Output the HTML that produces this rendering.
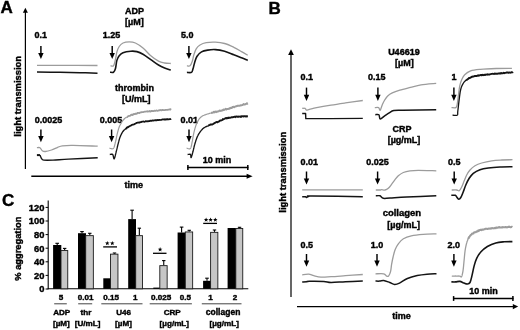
<!DOCTYPE html>
<html><head><meta charset="utf-8"><style>
html,body{margin:0;padding:0;background:#fff;}
svg{display:block;font-family:"Liberation Sans", sans-serif;filter:blur(0.25px);}
</style></head><body>
<svg width="520" height="330" viewBox="0 0 520 330">
<rect width="520" height="330" fill="#fff"/>
<text x="0.5" y="13.2" font-size="17" font-weight="bold" text-anchor="start" fill="#000" stroke="#000" stroke-width="0.4">A</text>
<line x1="25.4" y1="11.7" x2="25.4" y2="169" stroke="#000" stroke-width="1.2"/>
<path d="M22.9,12.7 L27.9,12.7 L25.4,7.7 Z" fill="#000"/>
<line x1="31.3" y1="176.2" x2="247.6" y2="176.2" stroke="#000" stroke-width="1.4"/>
<path d="M246.6,173.7 L246.6,178.7 L252.6,176.2 Z" fill="#000"/>
<text x="124.6" y="188.3" font-size="9" font-weight="bold" text-anchor="start" fill="#000" stroke="#000" stroke-width="0.4">time</text>
<text x="21.4" y="96.35" font-size="9.4" font-weight="bold" text-anchor="middle" fill="#000" stroke="#000" stroke-width="0.4" transform="rotate(-90 21.4 96.35)">light transmission</text>
<text x="134.4" y="14.3" font-size="9" font-weight="bold" text-anchor="middle" fill="#000" stroke="#000" stroke-width="0.4">ADP</text>
<text x="134.4" y="25.2" font-size="9" font-weight="bold" text-anchor="middle" fill="#000" stroke="#000" stroke-width="0.4">[µM]</text>
<text x="34.6" y="37.7" font-size="9" font-weight="bold" text-anchor="start" fill="#000" stroke="#000" stroke-width="0.4">0.1</text>
<text x="102.8" y="37.7" font-size="9" font-weight="bold" text-anchor="start" fill="#000" stroke="#000" stroke-width="0.4">1.25</text>
<text x="181" y="37.7" font-size="9" font-weight="bold" text-anchor="start" fill="#000" stroke="#000" stroke-width="0.4">5.0</text>
<line x1="40.9" y1="46" x2="40.9" y2="53.9" stroke="#000" stroke-width="1.45"/>
<path d="M38.199999999999996,52.9 L43.6,52.9 L40.9,59.1 Z" fill="#000"/>
<line x1="112.2" y1="46" x2="112.2" y2="53.9" stroke="#000" stroke-width="1.45"/>
<path d="M109.5,52.9 L114.9,52.9 L112.2,59.1 Z" fill="#000"/>
<line x1="188.9" y1="46" x2="188.9" y2="53.9" stroke="#000" stroke-width="1.45"/>
<path d="M186.20000000000002,52.9 L191.6,52.9 L188.9,59.1 Z" fill="#000"/>
<path d="M37.00,65.30 C40.83,65.32 49.92,65.37 60.00,65.40 C70.08,65.43 91.25,65.48 97.50,65.50" fill="none" stroke="#9c9c9c" stroke-width="1.3" stroke-linejoin="round" stroke-linecap="butt"/>
<path d="M37.00,72.10 C40.83,72.13 52.83,72.20 60.00,72.30 C67.17,72.40 73.75,72.55 80.00,72.70 C86.25,72.85 94.58,73.12 97.50,73.20" fill="none" stroke="#141414" stroke-width="1.5" stroke-linejoin="round" stroke-linecap="butt"/>
<path d="M110.50,65.80 C111.00,65.80 112.68,66.83 113.50,65.80 C114.32,64.77 114.83,61.92 115.40,59.60 C115.97,57.28 116.27,54.08 116.90,51.90 C117.53,49.72 118.18,47.98 119.20,46.50 C120.22,45.02 121.33,43.77 123.00,43.00 C124.67,42.23 127.13,41.90 129.20,41.90 C131.27,41.90 133.10,41.98 135.40,43.00 C137.70,44.02 140.43,45.87 143.00,48.00 C145.57,50.13 148.22,53.60 150.80,55.80 C153.38,58.00 156.20,60.00 158.50,61.20 C160.80,62.40 162.55,62.62 164.60,63.00 C166.65,63.38 169.77,63.42 170.80,63.50" fill="none" stroke="#9c9c9c" stroke-width="1.3" stroke-linejoin="round" stroke-linecap="butt"/>
<path d="M110.00,72.20 C110.58,72.20 112.60,72.77 113.50,72.20 C114.40,71.63 114.83,70.77 115.40,68.80 C115.97,66.83 116.27,62.57 116.90,60.40 C117.53,58.23 118.18,57.08 119.20,55.80 C120.22,54.52 121.07,53.47 123.00,52.70 C124.93,51.93 128.48,51.38 130.80,51.20 C133.12,51.02 134.87,51.10 136.90,51.60 C138.93,52.10 140.68,52.87 143.00,54.20 C145.32,55.53 148.22,57.80 150.80,59.60 C153.38,61.40 156.20,63.60 158.50,65.00 C160.80,66.40 162.55,67.15 164.60,68.00 C166.65,68.85 169.77,69.75 170.80,70.10" fill="none" stroke="#141414" stroke-width="1.6" stroke-linejoin="round" stroke-linecap="butt"/>
<path d="M186.90,65.80 C187.42,65.80 189.10,66.57 190.00,65.80 C190.90,65.03 191.67,63.00 192.30,61.20 C192.93,59.40 193.15,57.07 193.80,55.00 C194.45,52.93 195.17,50.47 196.20,48.80 C197.23,47.13 198.33,46.02 200.00,45.00 C201.67,43.98 203.63,43.17 206.20,42.70 C208.77,42.23 212.33,42.07 215.40,42.20 C218.47,42.33 221.53,42.65 224.60,43.50 C227.67,44.35 230.98,45.95 233.80,47.30 C236.62,48.65 239.18,50.27 241.50,51.60 C243.82,52.93 246.67,54.68 247.70,55.30" fill="none" stroke="#9c9c9c" stroke-width="1.3" stroke-linejoin="round" stroke-linecap="butt"/>
<path d="M186.90,72.40 C187.67,72.40 190.48,73.00 191.50,72.40 C192.52,71.80 192.48,70.42 193.00,68.80 C193.52,67.18 193.95,64.75 194.60,62.70 C195.25,60.65 195.75,58.30 196.90,56.50 C198.05,54.70 199.70,52.97 201.50,51.90 C203.30,50.83 205.38,50.48 207.70,50.10 C210.02,49.72 212.58,49.42 215.40,49.60 C218.22,49.78 221.53,50.35 224.60,51.20 C227.67,52.05 230.98,53.60 233.80,54.70 C236.62,55.80 239.18,56.85 241.50,57.80 C243.82,58.75 246.67,59.97 247.70,60.40" fill="none" stroke="#141414" stroke-width="1.6" stroke-linejoin="round" stroke-linecap="butt"/>
<text x="134.5" y="90.8" font-size="9" font-weight="bold" text-anchor="middle" fill="#000" stroke="#000" stroke-width="0.4">thrombin</text>
<text x="136.2" y="101.6" font-size="9" font-weight="bold" text-anchor="middle" fill="#000" stroke="#000" stroke-width="0.4">[U/mL]</text>
<text x="34.8" y="123.2" font-size="9" font-weight="bold" text-anchor="start" fill="#000" stroke="#000" stroke-width="0.4">0.0025</text>
<text x="99.8" y="123.2" font-size="9" font-weight="bold" text-anchor="start" fill="#000" stroke="#000" stroke-width="0.4">0.005</text>
<text x="180.4" y="123.2" font-size="9" font-weight="bold" text-anchor="start" fill="#000" stroke="#000" stroke-width="0.4">0.01</text>
<line x1="40.9" y1="129.5" x2="40.9" y2="137.10000000000002" stroke="#000" stroke-width="1.45"/>
<path d="M38.199999999999996,136.10000000000002 L43.6,136.10000000000002 L40.9,142.3 Z" fill="#000"/>
<line x1="111.6" y1="129.5" x2="111.6" y2="137.10000000000002" stroke="#000" stroke-width="1.45"/>
<path d="M108.89999999999999,136.10000000000002 L114.3,136.10000000000002 L111.6,142.3 Z" fill="#000"/>
<line x1="189" y1="129.5" x2="189" y2="137.10000000000002" stroke="#000" stroke-width="1.45"/>
<path d="M186.3,136.10000000000002 L191.7,136.10000000000002 L189,142.3 Z" fill="#000"/>
<path d="M36.90,147.70 C37.42,147.70 39.10,147.18 40.00,147.70 C40.90,148.22 41.40,150.17 42.30,150.80 C43.20,151.43 43.87,151.63 45.40,151.50 C46.93,151.37 49.45,150.68 51.50,150.00 C53.55,149.32 55.90,148.10 57.70,147.40 C59.50,146.70 59.75,146.13 62.30,145.80 C64.85,145.47 67.10,145.33 73.00,145.40 C78.90,145.47 93.58,146.07 97.70,146.20" fill="none" stroke="#9c9c9c" stroke-width="1.3" stroke-linejoin="round" stroke-linecap="butt"/>
<path d="M36.90,155.10 L40.00,155.10" fill="none" stroke="#141414" stroke-width="2.0" stroke-linejoin="round" stroke-linecap="butt"/>
<path d="M40.00,155.10 C40.25,155.67 40.87,157.67 41.50,158.50 C42.13,159.33 41.88,159.83 43.80,160.10 C45.72,160.37 48.88,160.27 53.00,160.10 C57.12,159.93 61.05,159.50 68.50,159.10 C75.95,158.70 92.83,157.93 97.70,157.70" fill="none" stroke="#141414" stroke-width="1.4" stroke-linejoin="round" stroke-linecap="butt"/>
<path d="M109.50,148.21 L109.95,148.29 L110.58,148.47 L111.32,148.71 L112.09,148.88 L112.81,148.78 L113.40,148.40 L113.66,148.10 L113.90,147.61 L114.11,147.14 L114.31,146.61 L114.49,145.96 L114.67,145.29 L114.83,144.58 L115.00,143.90 L115.16,143.24 L115.33,142.44 L115.50,141.83 L115.65,141.25 L115.79,140.65 L115.94,140.00 L116.08,139.36 L116.21,138.68 L116.35,138.02 L116.49,137.34 L116.62,136.64 L116.76,136.07 L116.89,135.40 L117.03,134.74 L117.16,134.17 L117.30,133.60 L117.48,132.87 L117.66,132.16 L117.84,131.49 L118.02,130.83 L118.20,130.18 L118.38,129.54 L118.56,128.89 L118.74,128.34 L118.92,127.78 L119.10,127.31 L119.39,126.57 L119.68,125.90 L119.96,125.31 L120.26,124.76 L120.57,124.16 L120.90,123.63 L121.21,123.09 L121.52,122.50 L121.85,121.95 L122.19,121.43 L122.55,120.99 L122.92,120.44 L123.30,119.96 L123.75,119.51 L124.20,119.01 L124.66,118.53 L125.17,118.11 L125.74,117.72 L126.40,117.27" fill="none" stroke="#9c9c9c" stroke-width="1.2" stroke-linejoin="round" stroke-linecap="butt"/>
<path d="M126.40,117.04 L126.88,117.26 L127.39,116.93 L127.93,116.30 L128.49,116.20 L129.08,115.90 L129.71,115.78 L130.37,115.62 L131.06,114.87 L131.80,114.57 L132.30,114.97 L132.82,114.52 L133.36,114.58 L133.91,113.89 L134.49,114.03 L135.07,114.06 L135.67,113.55 L136.28,113.89 L136.89,113.70 L137.51,112.94 L138.13,112.78 L138.76,113.00 L139.38,113.14 L140.00,112.62 L140.58,112.38 L141.15,112.42 L141.73,112.03 L142.32,112.06 L142.90,112.12 L143.49,112.06 L144.08,111.78 L144.68,111.69 L145.29,111.60 L145.90,111.68 L146.52,111.48 L147.15,111.21 L147.79,111.70 L148.44,111.42 L149.10,111.40 L149.66,111.01 L150.23,111.52 L150.81,111.36 L151.40,110.78 L151.99,110.87 L152.59,111.08 L153.19,111.02 L153.80,111.12 L154.42,110.71 L155.04,110.94 L155.66,110.78 L156.28,110.47 L156.90,110.61 L157.52,110.77 L158.15,110.69 L158.77,110.40 L159.38,110.41 L160.00,109.97 L160.63,110.07 L161.29,110.41 L161.98,110.09 L162.68,109.86 L163.40,110.08 L164.13,110.13 L164.85,110.06 L165.57,109.80 L166.28,109.79 L166.97,109.80 L167.64,109.94 L168.29,109.71 L168.89,109.58 L169.46,109.61 L169.98,109.26 L170.45,109.23 L170.85,109.67 L171.20,109.84" fill="none" stroke="#9c9c9c" stroke-width="1.8" stroke-linejoin="round" stroke-linecap="butt"/>
<path d="M109.80,154.47 L110.35,154.40 L111.16,154.27 L112.01,154.21 L112.70,154.46 L112.98,155.03 L113.21,155.79 L113.40,156.72 L113.58,157.55 L113.76,158.36 L113.96,158.74 L114.20,158.82 L114.35,158.57 L114.50,158.22 L114.67,157.84 L114.84,157.21 L115.01,156.62 L115.19,155.97 L115.37,155.18 L115.55,154.42 L115.73,153.72 L115.91,152.92 L116.08,152.23 L116.24,151.47 L116.40,150.89 L116.56,150.23 L116.72,149.65 L116.88,148.97 L117.03,148.43 L117.18,147.72 L117.33,147.17 L117.47,146.49 L117.61,145.91 L117.76,145.37 L117.90,144.72 L118.05,144.14 L118.20,143.62 L118.38,142.91 L118.55,142.22 L118.71,141.66 L118.88,140.93 L119.04,140.29 L119.22,139.70 L119.39,139.11 L119.58,138.52 L119.78,137.85 L120.00,137.28 L120.23,136.66 L120.47,136.11 L120.71,135.56 L120.97,134.98 L121.23,134.42 L121.50,133.85 L121.79,133.32 L122.08,132.79 L122.39,132.27 L122.70,131.77 L123.11,131.27 L123.54,130.73 L123.98,130.23 L124.44,129.82 L124.91,129.44 L125.40,128.95 L125.89,128.60 L126.40,128.19" fill="none" stroke="#141414" stroke-width="1.35" stroke-linejoin="round" stroke-linecap="butt"/>
<path d="M125.89,128.87 L126.40,128.47 L126.91,127.55 L127.40,127.21 L127.91,127.33 L128.43,126.94 L128.97,126.58 L129.56,126.05 L130.20,125.90 L130.90,125.56 L131.36,125.33 L131.83,124.86 L132.32,124.80 L132.82,124.55 L133.34,124.52 L133.88,124.45 L134.43,124.20 L135.00,123.74 L135.60,123.46 L136.21,123.14 L136.85,122.80 L137.51,122.60 L138.20,122.68 L138.72,122.47 L139.25,122.38 L139.81,122.57 L140.38,122.23 L140.97,122.14 L141.57,121.84 L142.18,121.61 L142.80,121.69 L143.43,121.48 L144.06,121.60 L144.69,121.80 L145.33,121.52 L145.97,121.13 L146.61,121.47 L147.24,121.33 L147.87,121.20 L148.49,121.23 L149.10,121.06 L149.71,120.99 L150.31,120.66 L150.91,120.96 L151.52,120.88 L152.12,120.33 L152.72,120.62 L153.33,120.54 L153.93,120.32 L154.53,120.31 L155.13,120.22 L155.74,120.43 L156.34,120.12 L156.95,120.26 L157.56,119.92 L158.17,120.19 L158.78,120.15 L159.39,119.83 L160.00,119.84 L160.63,120.00 L161.29,119.83 L161.98,119.63 L162.68,119.42 L163.40,119.43 L164.13,119.60 L164.85,119.23 L165.57,119.62 L166.28,119.19 L166.97,119.53 L167.64,119.12 L168.29,119.47 L168.89,119.28 L169.46,119.12 L169.98,119.09 L170.45,119.14 L170.85,119.08 L171.20,118.89" fill="none" stroke="#141414" stroke-width="1.8" stroke-linejoin="round" stroke-linecap="butt"/>
<path d="M186.60,148.18 L187.04,148.26 L187.66,148.54 L188.39,148.76 L189.14,148.79 L189.84,148.79 L190.40,148.39 L190.64,148.02 L190.86,147.60 L191.05,147.14 L191.22,146.57 L191.38,145.85 L191.53,145.24 L191.67,144.49 L191.80,143.86 L191.93,143.12 L192.06,142.49 L192.20,141.85 L192.32,141.22 L192.44,140.67 L192.55,140.00 L192.65,139.37 L192.75,138.81 L192.85,138.14 L192.95,137.54 L193.05,136.94 L193.15,136.35 L193.26,135.68 L193.38,135.06 L193.50,134.54 L193.63,133.87 L193.77,133.31 L193.91,132.67 L194.06,131.98 L194.21,131.36 L194.37,130.73 L194.52,130.13 L194.68,129.51 L194.84,128.92 L194.99,128.36 L195.15,127.85 L195.30,127.30 L195.52,126.59 L195.73,125.99 L195.94,125.35 L196.14,124.81 L196.36,124.35 L196.59,123.78 L196.83,123.26 L197.10,122.65 L197.39,122.11 L197.69,121.53 L198.00,120.88 L198.33,120.34 L198.67,119.76 L199.03,119.15 L199.41,118.69 L199.80,118.20 L200.25,117.74 L200.68,117.27 L201.13,116.92 L201.62,116.57 L202.16,116.15 L202.78,115.81 L203.50,115.52 L203.98,115.33 L204.50,115.05 L205.05,114.86 L205.64,114.66 L206.25,114.43 L206.87,114.23 L207.52,114.02 L208.16,113.83 L208.81,113.66 L209.45,113.44 L210.09,113.27 L210.70,113.13" fill="none" stroke="#9c9c9c" stroke-width="1.2" stroke-linejoin="round" stroke-linecap="butt"/>
<path d="M210.70,112.86 L211.30,112.97 L211.88,112.66 L212.45,112.72 L213.03,112.60 L213.60,111.96 L214.17,111.77 L214.76,112.38 L215.36,111.72 L215.98,111.55 L216.63,112.09 L217.30,111.45 L218.00,111.60 L218.52,111.15 L219.07,111.15 L219.64,110.57 L220.22,110.86 L220.82,110.91 L221.43,110.45 L222.05,110.48 L222.67,110.26 L223.30,109.55 L223.93,110.01 L224.55,109.70 L225.16,109.28 L225.76,108.88 L226.35,109.47 L226.92,108.97 L227.47,109.04 L228.00,109.04 L228.65,108.71 L229.24,108.73 L229.81,108.09 L230.34,108.30 L230.85,107.82 L231.36,108.11 L231.87,107.90 L232.39,107.04 L232.93,106.91 L233.50,106.81 L234.11,107.31 L234.78,106.64 L235.50,106.61 L235.99,106.19 L236.53,106.23 L237.10,105.96 L237.71,105.77 L238.34,105.81 L239.00,105.64 L239.67,105.75 L240.35,105.37 L241.04,105.42 L241.73,105.17 L242.41,105.12 L243.08,104.65 L243.73,104.03 L244.36,104.49 L244.97,104.43 L245.54,104.23 L246.07,103.79 L246.56,103.79 L246.99,103.22 L247.38,103.68 L247.70,103.37" fill="none" stroke="#9c9c9c" stroke-width="2.0" stroke-linejoin="round" stroke-linecap="butt"/>
<path d="M187.60,154.47 L188.18,154.45 L189.01,154.32 L189.87,154.26 L190.50,154.48 L190.75,155.03 L190.85,155.94 L190.88,156.81 L190.94,157.52 L191.10,157.64 L191.23,157.43 L191.38,157.06 L191.55,156.61 L191.73,155.94 L191.92,155.33 L192.12,154.70 L192.32,153.96 L192.52,153.19 L192.71,152.53 L192.90,151.81 L193.05,151.28 L193.19,150.65 L193.34,150.05 L193.48,149.47 L193.62,148.82 L193.76,148.23 L193.91,147.66 L194.06,146.96 L194.21,146.30 L194.37,145.68 L194.53,145.08 L194.70,144.53 L194.88,143.88 L195.06,143.25 L195.25,142.60 L195.44,142.06 L195.64,141.37 L195.84,140.72 L196.05,140.09 L196.26,139.48 L196.46,138.90 L196.68,138.38 L196.89,137.78 L197.10,137.25 L197.38,136.65 L197.66,136.02 L197.94,135.52 L198.22,134.89 L198.51,134.41 L198.81,133.92 L199.13,133.39 L199.45,132.95 L199.80,132.40 L200.16,131.87 L200.52,131.38 L200.90,130.85 L201.28,130.40 L201.68,129.90 L202.10,129.50 L202.54,129.05 L203.01,128.60 L203.50,128.15 L203.97,127.84 L204.47,127.53 L204.99,127.23 L205.53,126.96 L206.09,126.76 L206.65,126.44 L207.22,126.18 L207.79,126.03 L208.35,125.75 L208.90,125.55" fill="none" stroke="#141414" stroke-width="1.35" stroke-linejoin="round" stroke-linecap="butt"/>
<path d="M208.35,125.53 L208.90,125.18 L209.51,125.15 L210.12,124.71 L210.73,124.39 L211.34,124.42 L211.96,124.60 L212.57,124.27 L213.18,124.00 L213.79,123.33 L214.40,123.33 L215.00,122.86 L215.60,122.52 L216.20,122.20 L216.80,122.02 L217.40,122.32 L218.00,121.97 L218.60,121.68 L219.20,121.41 L219.80,120.65 L220.34,120.50 L220.86,120.51 L221.37,120.33 L221.88,120.18 L222.40,119.94 L222.93,119.06 L223.48,119.23 L224.05,119.05 L224.66,118.70 L225.30,118.24 L225.81,118.34 L226.31,117.90 L226.80,118.45 L227.31,118.27 L227.82,117.90 L228.36,117.60 L228.91,117.98 L229.50,117.61 L230.12,117.77 L230.79,117.65 L231.50,117.28 L232.27,117.12 L233.10,117.18 L233.59,117.00 L234.13,116.73 L234.70,116.80 L235.31,117.16 L235.95,116.50 L236.61,116.46 L237.30,116.87 L238.00,116.55 L238.72,116.71 L239.44,116.62 L240.17,116.48 L240.89,116.96 L241.60,116.28 L242.31,116.42 L243.00,116.21 L243.66,116.52 L244.31,116.20 L244.92,116.23 L245.49,116.52 L246.03,116.15 L246.53,116.31 L246.97,116.57 L247.37,115.90 L247.70,115.85" fill="none" stroke="#141414" stroke-width="1.9" stroke-linejoin="round" stroke-linecap="butt"/>
<text x="202.8" y="163.0" font-size="9" font-weight="bold" text-anchor="start" fill="#000" stroke="#000" stroke-width="0.4">10 min</text>
<line x1="187.3" y1="167.5" x2="248.4" y2="167.5" stroke="#000" stroke-width="1.4"/>
<line x1="187.9" y1="165.1" x2="187.9" y2="169.9" stroke="#000" stroke-width="1.5"/>
<line x1="247.8" y1="165.1" x2="247.8" y2="169.9" stroke="#000" stroke-width="1.5"/>
<text x="268.5" y="14.4" font-size="17" font-weight="bold" text-anchor="start" fill="#000" stroke="#000" stroke-width="0.4">B</text>
<line x1="291" y1="53.9" x2="291" y2="297" stroke="#000" stroke-width="1.2"/>
<path d="M288.15,54.9 L293.85,54.9 L291,49.3 Z" fill="#000"/>
<line x1="297" y1="306.6" x2="513.8000000000001" y2="306.6" stroke="#000" stroke-width="1.4"/>
<path d="M512.8000000000001,303.90000000000003 L512.8000000000001,309.3 L518.2,306.6 Z" fill="#000"/>
<text x="392.3" y="318.6" font-size="9" font-weight="bold" text-anchor="start" fill="#000" stroke="#000" stroke-width="0.4">time</text>
<text x="286.2" y="172.25" font-size="9.4" font-weight="bold" text-anchor="middle" fill="#000" stroke="#000" stroke-width="0.4" transform="rotate(-90 286.2 172.25)">light transmission</text>
<text x="403.9" y="54.9" font-size="9" font-weight="bold" text-anchor="middle" fill="#000" stroke="#000" stroke-width="0.4">U46619</text>
<text x="404.3" y="65.9" font-size="9" font-weight="bold" text-anchor="middle" fill="#000" stroke="#000" stroke-width="0.4">[µM]</text>
<text x="300.4" y="80" font-size="9" font-weight="bold" text-anchor="start" fill="#000" stroke="#000" stroke-width="0.4">0.1</text>
<text x="368" y="80" font-size="9" font-weight="bold" text-anchor="start" fill="#000" stroke="#000" stroke-width="0.4">0.15</text>
<text x="451.5" y="80" font-size="9" font-weight="bold" text-anchor="start" fill="#000" stroke="#000" stroke-width="0.4">1</text>
<line x1="306.5" y1="87.6" x2="306.5" y2="95.8" stroke="#000" stroke-width="1.45"/>
<path d="M303.8,94.8 L309.2,94.8 L306.5,101 Z" fill="#000"/>
<line x1="377.9" y1="87.6" x2="377.9" y2="95.8" stroke="#000" stroke-width="1.45"/>
<path d="M375.2,94.8 L380.59999999999997,94.8 L377.9,101 Z" fill="#000"/>
<line x1="453.9" y1="87.6" x2="453.9" y2="95.8" stroke="#000" stroke-width="1.45"/>
<path d="M451.2,94.8 L456.59999999999997,94.8 L453.9,101 Z" fill="#000"/>
<path d="M302.20,108.30 L305.40,108.30" fill="none" stroke="#9c9c9c" stroke-width="1.3" stroke-linejoin="round" stroke-linecap="butt"/>
<path d="M305.40,108.30 C305.55,108.58 305.63,109.82 306.30,110.00 C306.97,110.18 307.68,109.78 309.40,109.40 C311.12,109.02 313.00,108.42 316.60,107.70 C320.20,106.98 326.18,105.90 331.00,105.10 C335.82,104.30 340.20,103.67 345.50,102.90 C350.80,102.13 359.92,100.90 362.80,100.50" fill="none" stroke="#9c9c9c" stroke-width="1.3" stroke-linejoin="round" stroke-linecap="butt"/>
<path d="M302.20,113.50 L305.60,113.50 L305.80,118.60 L330.00,118.60 L362.80,118.40" fill="none" stroke="#141414" stroke-width="1.4" stroke-linejoin="round" stroke-linecap="butt"/>
<path d="M374.80,107.60 C375.43,107.60 377.70,107.17 378.60,107.60 C379.50,108.03 379.57,110.72 380.20,110.20 C380.83,109.68 381.65,106.20 382.40,104.50 C383.15,102.80 383.82,101.43 384.70,100.00 C385.58,98.57 386.43,97.08 387.70,95.90 C388.97,94.72 390.28,93.85 392.30,92.90 C394.32,91.95 396.77,91.12 399.80,90.20 C402.83,89.28 406.97,88.30 410.50,87.40 C414.03,86.50 416.72,85.48 421.00,84.80 C425.28,84.12 433.67,83.55 436.20,83.30" fill="none" stroke="#9c9c9c" stroke-width="1.3" stroke-linejoin="round" stroke-linecap="butt"/>
<path d="M375.30,114.70 C375.90,114.70 378.08,114.00 378.90,114.70 C379.72,115.40 379.23,118.70 380.20,118.90 C381.17,119.10 383.20,116.90 384.70,115.90 C386.20,114.90 387.68,113.78 389.20,112.90 C390.72,112.02 391.52,111.05 393.80,110.60 C396.08,110.15 395.83,110.33 402.90,110.20 C409.97,110.07 430.65,109.87 436.20,109.80" fill="none" stroke="#141414" stroke-width="1.5" stroke-linejoin="round" stroke-linecap="butt"/>
<path d="M451.50,107.60 C452.22,107.60 454.85,108.15 455.80,107.60 C456.75,107.05 456.77,106.33 457.20,104.30 C457.63,102.27 457.97,98.52 458.40,95.40 C458.83,92.28 459.25,88.22 459.80,85.60 C460.35,82.98 460.88,81.50 461.70,79.70 C462.52,77.90 463.22,76.28 464.70,74.80 C466.18,73.32 467.98,71.72 470.60,70.80 C473.22,69.88 476.13,69.68 480.40,69.30 C484.67,68.92 490.95,68.67 496.20,68.50 C501.45,68.33 509.28,68.33 511.90,68.30" fill="none" stroke="#9c9c9c" stroke-width="1.3" stroke-linejoin="round" stroke-linecap="butt"/>
<path d="M452.50,115.11 L452.96,115.15 L453.62,115.24 L454.40,115.28 L455.23,115.40 L456.02,115.36 L456.70,115.30 L457.20,115.11 L457.53,114.79 L457.67,114.37 L457.71,113.91 L457.69,113.23 L457.70,112.34 L457.80,111.19 L457.85,110.74 L457.91,110.26 L457.98,109.74 L458.04,109.21 L458.11,108.64 L458.18,107.97 L458.25,107.32 L458.33,106.72 L458.40,106.02 L458.48,105.33 L458.56,104.62 L458.64,103.95 L458.72,103.27 L458.80,102.57 L458.88,101.89 L458.96,101.21 L459.04,100.63 L459.12,99.96 L459.20,99.40 L459.29,98.74 L459.38,98.02 L459.46,97.38 L459.55,96.72 L459.63,96.04 L459.72,95.39 L459.80,94.70 L459.89,94.08 L459.98,93.43 L460.07,92.86 L460.16,92.22 L460.26,91.65 L460.36,91.11 L460.47,90.55 L460.58,90.03 L460.70,89.50 L460.90,88.74 L461.10,88.05 L461.32,87.37 L461.54,86.74 L461.77,86.17 L462.01,85.60 L462.26,85.09 L462.53,84.62 L462.81,84.12 L463.10,83.61 L463.48,83.01 L463.86,82.45 L464.26,81.93 L464.68,81.46 L465.13,81.03 L465.61,80.59 L466.13,80.12 L466.70,79.72" fill="none" stroke="#141414" stroke-width="1.3" stroke-linejoin="round" stroke-linecap="butt"/>
<path d="M466.13,80.20 L466.70,79.85 L467.13,79.57 L467.55,79.35 L467.98,78.93 L468.43,78.75 L468.89,77.93 L469.39,77.92 L469.92,77.94 L470.50,77.50 L471.14,77.41 L471.83,76.70 L472.60,76.68 L473.08,76.42 L473.57,76.48 L474.09,76.38 L474.63,75.93 L475.18,75.94 L475.76,75.87 L476.35,76.15 L476.95,75.96 L477.57,75.49 L478.21,75.78 L478.85,75.29 L479.51,75.49 L480.18,75.10 L480.87,74.94 L481.56,75.37 L482.26,74.89 L482.96,74.80 L483.68,75.18 L484.40,75.02 L484.94,74.61 L485.49,74.95 L486.05,74.64 L486.63,74.66 L487.22,74.32 L487.82,74.70 L488.42,74.50 L489.04,74.61 L489.66,74.51 L490.29,74.10 L490.92,74.08 L491.55,73.91 L492.19,73.84 L492.82,73.74 L493.46,73.83 L494.10,73.96 L494.73,73.55 L495.36,73.91 L495.98,73.65 L496.60,73.59 L497.20,73.84 L497.81,73.59 L498.40,73.44 L498.98,73.49 L499.54,73.57 L500.10,73.13 L500.79,73.62 L501.48,72.99 L502.19,73.36 L502.91,73.35 L503.62,72.79 L504.34,73.18 L505.06,72.86 L505.76,72.92 L506.46,72.51 L507.14,72.47 L507.81,72.49 L508.46,72.89 L509.09,72.38 L509.69,72.66 L510.26,72.71 L510.80,72.66 L511.30,72.26 L511.77,72.22 L512.19,72.28 L512.57,72.40 L512.90,71.96" fill="none" stroke="#141414" stroke-width="1.9" stroke-linejoin="round" stroke-linecap="butt"/>
<text x="402.1" y="132" font-size="9" font-weight="bold" text-anchor="middle" fill="#000" stroke="#000" stroke-width="0.4">CRP</text>
<text x="404" y="143" font-size="9" font-weight="bold" text-anchor="middle" fill="#000" stroke="#000" stroke-width="0.4">[µg/mL]</text>
<text x="300.4" y="164.8" font-size="9" font-weight="bold" text-anchor="start" fill="#000" stroke="#000" stroke-width="0.4">0.01</text>
<text x="366.2" y="164.8" font-size="9" font-weight="bold" text-anchor="start" fill="#000" stroke="#000" stroke-width="0.4">0.025</text>
<text x="448" y="164.8" font-size="9" font-weight="bold" text-anchor="start" fill="#000" stroke="#000" stroke-width="0.4">0.5</text>
<line x1="306.5" y1="171.5" x2="306.5" y2="179.4" stroke="#000" stroke-width="1.45"/>
<path d="M303.8,178.4 L309.2,178.4 L306.5,184.6 Z" fill="#000"/>
<line x1="377.6" y1="171.5" x2="377.6" y2="179.4" stroke="#000" stroke-width="1.45"/>
<path d="M374.90000000000003,178.4 L380.3,178.4 L377.6,184.6 Z" fill="#000"/>
<line x1="454.2" y1="171.5" x2="454.2" y2="179.4" stroke="#000" stroke-width="1.45"/>
<path d="M451.5,178.4 L456.9,178.4 L454.2,184.6 Z" fill="#000"/>
<path d="M302.20,189.90 L362.80,189.90" fill="none" stroke="#9c9c9c" stroke-width="1.3" stroke-linejoin="round" stroke-linecap="butt"/>
<path d="M302.20,196.70 C302.75,196.70 304.78,196.58 305.50,196.70 C306.22,196.82 305.92,197.47 306.50,197.40 C307.08,197.33 308.03,196.53 309.00,196.30 C309.97,196.07 303.33,195.93 312.30,196.00 C321.27,196.07 354.38,196.58 362.80,196.70" fill="none" stroke="#141414" stroke-width="1.5" stroke-linejoin="round" stroke-linecap="butt"/>
<path d="M375.80,190.00 C376.50,190.00 379.02,190.05 380.00,190.00 C380.98,189.95 380.87,189.70 381.70,189.70 C382.53,189.70 383.90,190.23 385.00,190.00 C386.10,189.77 387.18,189.27 388.30,188.30 C389.42,187.33 390.58,185.63 391.70,184.20 C392.82,182.77 393.90,181.10 395.00,179.70 C396.10,178.30 396.92,177.00 398.30,175.80 C399.68,174.60 401.35,173.33 403.30,172.50 C405.25,171.67 407.50,171.17 410.00,170.80 C412.50,170.43 413.92,170.30 418.30,170.30 C422.68,170.30 433.30,170.72 436.30,170.80" fill="none" stroke="#9c9c9c" stroke-width="1.3" stroke-linejoin="round" stroke-linecap="butt"/>
<path d="M375.80,195.80 C376.50,195.80 378.75,195.38 380.00,195.80 C381.25,196.22 381.63,197.93 383.30,198.30 C384.97,198.67 386.10,198.22 390.00,198.00 C393.90,197.78 398.98,197.37 406.70,197.00 C414.42,196.63 431.37,196.00 436.30,195.80" fill="none" stroke="#141414" stroke-width="1.5" stroke-linejoin="round" stroke-linecap="butt"/>
<path d="M451.70,190.00 C452.53,190.00 455.45,189.87 456.70,190.00 C457.95,190.13 458.37,191.30 459.20,190.80 C460.03,190.30 460.87,188.67 461.70,187.00 C462.53,185.33 463.37,182.80 464.20,180.80 C465.03,178.80 465.73,176.80 466.70,175.00 C467.67,173.20 468.62,171.53 470.00,170.00 C471.38,168.47 473.05,166.97 475.00,165.80 C476.95,164.63 478.92,163.83 481.70,163.00 C484.48,162.17 488.37,161.30 491.70,160.80 C495.03,160.30 498.23,160.18 501.70,160.00 C505.17,159.82 510.70,159.75 512.50,159.70" fill="none" stroke="#9c9c9c" stroke-width="1.3" stroke-linejoin="round" stroke-linecap="butt"/>
<path d="M451.30,195.30 C451.97,195.30 454.40,195.02 455.30,195.30 C456.20,195.58 456.13,196.35 456.70,197.00 C457.27,197.65 458.02,199.12 458.70,199.20 C459.38,199.28 460.03,198.75 460.80,197.50 C461.57,196.25 462.47,193.78 463.30,191.70 C464.13,189.62 464.82,187.23 465.80,185.00 C466.78,182.77 467.95,180.25 469.20,178.30 C470.45,176.35 471.50,174.73 473.30,173.30 C475.10,171.87 477.50,170.58 480.00,169.70 C482.50,168.82 484.97,168.45 488.30,168.00 C491.63,167.55 495.97,167.22 500.00,167.00 C504.03,166.78 510.42,166.75 512.50,166.70" fill="none" stroke="#141414" stroke-width="1.6" stroke-linejoin="round" stroke-linecap="butt"/>
<text x="401.9" y="216.3" font-size="9.5" font-weight="bold" text-anchor="middle" fill="#000" stroke="#000" stroke-width="0.4">collagen</text>
<text x="403.7" y="227.5" font-size="9" font-weight="bold" text-anchor="middle" fill="#000" stroke="#000" stroke-width="0.4">[µg/mL]</text>
<text x="300.6" y="247.8" font-size="9" font-weight="bold" text-anchor="start" fill="#000" stroke="#000" stroke-width="0.4">0.5</text>
<text x="370.8" y="247.8" font-size="9" font-weight="bold" text-anchor="start" fill="#000" stroke="#000" stroke-width="0.4">1.0</text>
<text x="447.6" y="247.8" font-size="9" font-weight="bold" text-anchor="start" fill="#000" stroke="#000" stroke-width="0.4">2.0</text>
<line x1="306.5" y1="254" x2="306.5" y2="261.6" stroke="#000" stroke-width="1.45"/>
<path d="M303.8,260.6 L309.2,260.6 L306.5,266.8 Z" fill="#000"/>
<line x1="377" y1="254" x2="377" y2="261.6" stroke="#000" stroke-width="1.45"/>
<path d="M374.3,260.6 L379.7,260.6 L377,266.8 Z" fill="#000"/>
<line x1="453.9" y1="254" x2="453.9" y2="261.6" stroke="#000" stroke-width="1.45"/>
<path d="M451.2,260.6 L456.59999999999997,260.6 L453.9,266.8 Z" fill="#000"/>
<path d="M302.20,274.80 C303.28,274.70 306.77,274.05 308.70,274.20 C310.63,274.35 311.75,275.22 313.80,275.70 C315.85,276.18 318.13,276.93 321.00,277.10 C323.87,277.27 326.92,276.93 331.00,276.70 C335.08,276.47 340.20,276.07 345.50,275.70 C350.80,275.33 359.92,274.70 362.80,274.50" fill="none" stroke="#9c9c9c" stroke-width="1.3" stroke-linejoin="round" stroke-linecap="butt"/>
<path d="M302.20,282.00 C302.92,281.95 305.30,281.83 306.50,281.70 C307.70,281.57 306.52,281.25 309.40,281.20 C312.28,281.15 320.20,281.18 323.80,281.40 C327.40,281.62 327.38,282.45 331.00,282.50 C334.62,282.55 340.20,281.95 345.50,281.70 C350.80,281.45 359.92,281.12 362.80,281.00" fill="none" stroke="#141414" stroke-width="1.5" stroke-linejoin="round" stroke-linecap="butt"/>
<path d="M375.50,273.80 C376.87,273.80 381.83,273.40 383.70,273.80 C385.57,274.20 385.87,275.87 386.70,276.20 C387.53,276.53 388.05,276.62 388.70,275.80 C389.35,274.98 390.12,273.20 390.60,271.30 C391.08,269.40 391.17,266.87 391.60,264.40 C392.03,261.93 392.60,258.97 393.20,256.50 C393.80,254.03 394.32,251.73 395.20,249.60 C396.08,247.47 397.13,245.50 398.50,243.70 C399.87,241.90 401.27,240.12 403.40,238.80 C405.53,237.48 408.02,236.55 411.30,235.80 C414.58,235.05 418.90,234.62 423.10,234.30 C427.30,233.98 434.27,233.97 436.50,233.90" fill="none" stroke="#9c9c9c" stroke-width="1.3" stroke-linejoin="round" stroke-linecap="butt"/>
<path d="M375.50,281.10 C376.22,281.10 378.43,281.20 379.80,281.10 C381.17,281.00 382.05,280.27 383.70,280.50 C385.35,280.73 387.88,281.85 389.70,282.50 C391.52,283.15 392.97,284.30 394.60,284.40 C396.23,284.50 397.37,284.08 399.50,283.10 C401.63,282.12 404.45,279.75 407.40,278.50 C410.35,277.25 413.93,276.32 417.20,275.60 C420.47,274.88 423.78,274.50 427.00,274.20 C430.22,273.90 434.92,273.87 436.50,273.80" fill="none" stroke="#141414" stroke-width="1.5" stroke-linejoin="round" stroke-linecap="butt"/>
<path d="M451.80,276.05 L452.17,276.09 L452.65,276.06 L453.23,276.05 L453.88,276.03 L454.58,276.09 L455.32,276.02 L456.07,276.03 L456.82,276.04 L457.54,276.09 L458.22,276.01 L458.84,276.06 L459.37,276.08 L459.80,276.14 L460.84,276.56 L461.18,277.07 L461.50,276.78 L461.66,276.48 L461.82,276.09 L461.98,275.67 L462.13,275.14 L462.29,274.47 L462.44,273.81 L462.59,273.11 L462.73,272.37 L462.87,271.61 L463.00,270.81 L463.08,270.27 L463.15,269.72 L463.22,269.20 L463.29,268.61 L463.36,268.02 L463.42,267.44 L463.49,266.77 L463.55,266.10 L463.61,265.46 L463.67,264.80 L463.74,264.08 L463.80,263.50 L463.86,262.83 L463.92,262.19 L463.98,261.55 L464.04,260.89 L464.10,260.29 L464.16,259.63 L464.23,259.06 L464.29,258.37 L464.35,257.74 L464.40,257.13 L464.46,256.50 L464.52,255.90 L464.58,255.26 L464.63,254.65 L464.69,254.06 L464.75,253.47 L464.82,252.91 L464.88,252.30 L464.95,251.83 L465.02,251.25 L465.10,250.66 L465.21,249.97 L465.31,249.30 L465.43,248.63 L465.54,247.95 L465.66,247.39 L465.78,246.78 L465.91,246.12 L466.04,245.53 L466.17,244.91 L466.31,244.35 L466.45,243.82 L466.60,243.28 L466.80,242.65 L466.99,241.93 L467.19,241.29 L467.40,240.79 L467.62,240.17 L467.85,239.57 L468.11,239.07 L468.39,238.48 L468.70,238.00" fill="none" stroke="#9c9c9c" stroke-width="1.3" stroke-linejoin="round" stroke-linecap="butt"/>
<path d="M468.11,238.90 L468.39,238.21 L468.70,238.14 L469.03,237.09 L469.38,237.01 L469.74,236.36 L470.13,235.61 L470.54,235.54 L470.98,234.67 L471.45,234.59 L471.95,233.83 L472.50,233.43 L472.98,233.40 L473.48,233.43 L474.00,232.48 L474.55,232.25 L475.11,232.31 L475.70,232.30 L476.31,231.68 L476.93,231.24 L477.57,231.51 L478.23,230.42 L478.90,230.92 L479.43,230.24 L479.97,229.96 L480.51,229.79 L481.05,229.83 L481.61,230.16 L482.18,229.47 L482.76,229.72 L483.35,229.66 L483.97,229.32 L484.60,229.37 L485.26,228.83 L485.95,228.72 L486.66,228.75 L487.40,229.06 L487.91,228.76 L488.45,228.58 L489.00,228.74 L489.56,228.55 L490.14,228.33 L490.73,228.70 L491.34,228.53 L491.95,228.04 L492.57,228.26 L493.20,228.14 L493.83,228.38 L494.46,228.18 L495.10,227.71 L495.74,228.26 L496.38,227.41 L497.01,227.62 L497.64,227.86 L498.27,227.25 L498.89,227.50 L499.50,227.04 L500.10,227.55 L500.74,227.59 L501.40,227.37 L502.08,227.59 L502.78,227.05 L503.49,227.35 L504.21,227.22 L504.92,227.17 L505.64,227.03 L506.35,227.34 L507.04,227.41 L507.72,226.96 L508.38,227.10 L509.02,226.53 L509.63,227.09 L510.20,227.02 L510.73,227.31 L511.23,227.14 L511.67,226.64 L512.06,226.71 L512.40,226.95" fill="none" stroke="#9c9c9c" stroke-width="2.0" stroke-linejoin="round" stroke-linecap="butt"/>
<path d="M451.40,281.90 C452.10,281.90 454.20,281.98 455.60,281.90 C457.00,281.82 458.38,281.20 459.80,281.40 C461.22,281.60 462.87,282.67 464.10,283.10 C465.33,283.53 466.22,284.10 467.20,284.00 C468.18,283.90 469.18,283.98 470.00,282.50 C470.82,281.02 471.40,277.92 472.10,275.10 C472.80,272.28 473.42,268.43 474.20,265.60 C474.98,262.77 475.67,260.40 476.80,258.10 C477.93,255.80 479.23,253.73 481.00,251.80 C482.77,249.87 484.93,247.98 487.40,246.50 C489.87,245.02 492.98,243.68 495.80,242.90 C498.62,242.12 501.53,242.02 504.30,241.80 C507.07,241.58 511.05,241.63 512.40,241.60" fill="none" stroke="#141414" stroke-width="1.6" stroke-linejoin="round" stroke-linecap="butt"/>
<text x="469.3" y="294.2" font-size="9" font-weight="bold" text-anchor="start" fill="#000" stroke="#000" stroke-width="0.4">10 min</text>
<line x1="453" y1="298.5" x2="513.5" y2="298.5" stroke="#000" stroke-width="1.4"/>
<line x1="453.6" y1="296.1" x2="453.6" y2="300.9" stroke="#000" stroke-width="1.5"/>
<line x1="512.9" y1="296.1" x2="512.9" y2="300.9" stroke="#000" stroke-width="1.5"/>
<text x="2.0" y="205.8" font-size="17" font-weight="bold" text-anchor="start" fill="#000" stroke="#000" stroke-width="0.4">C</text>
<line x1="48.2" y1="200.5" x2="48.2" y2="289.3" stroke="#000" stroke-width="1.1"/>
<line x1="47.7" y1="288.8" x2="248.3" y2="288.8" stroke="#000" stroke-width="1.1"/>
<text x="21.2" y="248.65" font-size="9.3" font-weight="bold" text-anchor="middle" fill="#000" stroke="#000" stroke-width="0.4" transform="rotate(-90 21.2 248.65)">% aggregation</text>
<line x1="45.6" y1="289.0" x2="48.2" y2="289.0" stroke="#000" stroke-width="1.0"/>
<text x="44.5" y="292.3" font-size="9.4" font-weight="bold" text-anchor="end" fill="#000" stroke="#000" stroke-width="0.4">0</text>
<line x1="45.6" y1="275.4" x2="48.2" y2="275.4" stroke="#000" stroke-width="1.0"/>
<text x="44.5" y="278.7" font-size="9.4" font-weight="bold" text-anchor="end" fill="#000" stroke="#000" stroke-width="0.4">20</text>
<line x1="45.6" y1="261.8" x2="48.2" y2="261.8" stroke="#000" stroke-width="1.0"/>
<text x="44.5" y="265.1" font-size="9.4" font-weight="bold" text-anchor="end" fill="#000" stroke="#000" stroke-width="0.4">40</text>
<line x1="45.6" y1="248.2" x2="48.2" y2="248.2" stroke="#000" stroke-width="1.0"/>
<text x="44.5" y="251.5" font-size="9.4" font-weight="bold" text-anchor="end" fill="#000" stroke="#000" stroke-width="0.4">60</text>
<line x1="45.6" y1="234.6" x2="48.2" y2="234.6" stroke="#000" stroke-width="1.0"/>
<text x="44.5" y="237.9" font-size="9.4" font-weight="bold" text-anchor="end" fill="#000" stroke="#000" stroke-width="0.4">80</text>
<line x1="45.6" y1="221.0" x2="48.2" y2="221.0" stroke="#000" stroke-width="1.0"/>
<text x="44.5" y="224.3" font-size="9.4" font-weight="bold" text-anchor="end" fill="#000" stroke="#000" stroke-width="0.4">100</text>
<line x1="45.6" y1="207.39999999999998" x2="48.2" y2="207.39999999999998" stroke="#000" stroke-width="1.0"/>
<text x="44.5" y="210.7" font-size="9.4" font-weight="bold" text-anchor="end" fill="#000" stroke="#000" stroke-width="0.4">120</text>
<line x1="57.2" y1="243.3" x2="57.2" y2="245.0" stroke="#000" stroke-width="1.1"/>
<line x1="55.400000000000006" y1="243.3" x2="59.0" y2="243.3" stroke="#000" stroke-width="1.1"/>
<line x1="64.65" y1="248.4" x2="64.65" y2="250.1" stroke="#000" stroke-width="1.1"/>
<line x1="62.95" y1="248.4" x2="66.35000000000001" y2="248.4" stroke="#000" stroke-width="1.1"/>
<rect x="53.1" y="245.0" width="8.199999999999996" height="43.80000000000001" fill="#000"/>
<rect x="61.0" y="250.54999999999998" width="6.750000000000003" height="38.250000000000014" fill="#c6c6c6" stroke="#1a1a1a" stroke-width="0.9"/>
<line x1="82.0" y1="231.6" x2="82.0" y2="233.2" stroke="#000" stroke-width="1.1"/>
<line x1="80.2" y1="231.6" x2="83.8" y2="231.6" stroke="#000" stroke-width="1.1"/>
<line x1="89.8" y1="233.3" x2="89.8" y2="235.2" stroke="#000" stroke-width="1.1"/>
<line x1="88.1" y1="233.3" x2="91.5" y2="233.3" stroke="#000" stroke-width="1.1"/>
<rect x="78.0" y="233.2" width="8.0" height="55.60000000000002" fill="#000"/>
<rect x="85.7" y="235.64999999999998" width="7.649999999999994" height="53.15000000000002" fill="#c6c6c6" stroke="#1a1a1a" stroke-width="0.9"/>
<line x1="114.5" y1="253.0" x2="114.5" y2="253.7" stroke="#000" stroke-width="1.1"/>
<line x1="112.8" y1="253.0" x2="116.2" y2="253.0" stroke="#000" stroke-width="1.1"/>
<rect x="103.3" y="278.3" width="7.5" height="10.5" fill="#000"/>
<rect x="110.5" y="254.14999999999998" width="7.4500000000000055" height="34.65000000000002" fill="#c6c6c6" stroke="#1a1a1a" stroke-width="0.9"/>
<line x1="132.1" y1="210.2" x2="132.1" y2="219.1" stroke="#000" stroke-width="1.1"/>
<line x1="130.29999999999998" y1="210.2" x2="133.9" y2="210.2" stroke="#000" stroke-width="1.1"/>
<line x1="139.35" y1="228.2" x2="139.35" y2="235.2" stroke="#000" stroke-width="1.1"/>
<line x1="137.65" y1="228.2" x2="141.04999999999998" y2="228.2" stroke="#000" stroke-width="1.1"/>
<rect x="128.2" y="219.1" width="7.800000000000011" height="69.70000000000002" fill="#000"/>
<rect x="135.7" y="235.64999999999998" width="6.7499999999999885" height="53.15000000000002" fill="#c6c6c6" stroke="#1a1a1a" stroke-width="0.9"/>
<line x1="163.75" y1="260.6" x2="163.75" y2="265.2" stroke="#000" stroke-width="1.1"/>
<line x1="162.05" y1="260.6" x2="165.45" y2="260.6" stroke="#000" stroke-width="1.1"/>
<rect x="153.3" y="287.6" width="6.799999999999983" height="1.1999999999999886" fill="#000"/>
<rect x="159.79999999999998" y="265.65" width="7.350000000000011" height="23.150000000000023" fill="#c6c6c6" stroke="#1a1a1a" stroke-width="0.9"/>
<line x1="181.6" y1="227.1" x2="181.6" y2="232.5" stroke="#000" stroke-width="1.1"/>
<line x1="179.79999999999998" y1="227.1" x2="183.4" y2="227.1" stroke="#000" stroke-width="1.1"/>
<line x1="189.25" y1="230.3" x2="189.25" y2="231.5" stroke="#000" stroke-width="1.1"/>
<line x1="187.55" y1="230.3" x2="190.95" y2="230.3" stroke="#000" stroke-width="1.1"/>
<rect x="177.6" y="232.5" width="8.0" height="56.30000000000001" fill="#000"/>
<rect x="185.29999999999998" y="231.95" width="7.350000000000011" height="56.85000000000001" fill="#c6c6c6" stroke="#1a1a1a" stroke-width="0.9"/>
<line x1="207.0" y1="278.2" x2="207.0" y2="280.8" stroke="#000" stroke-width="1.1"/>
<line x1="205.2" y1="278.2" x2="208.8" y2="278.2" stroke="#000" stroke-width="1.1"/>
<line x1="214.5" y1="230.0" x2="214.5" y2="231.9" stroke="#000" stroke-width="1.1"/>
<line x1="212.8" y1="230.0" x2="216.2" y2="230.0" stroke="#000" stroke-width="1.1"/>
<rect x="203.1" y="280.8" width="7.800000000000011" height="8.0" fill="#000"/>
<rect x="210.6" y="232.35" width="7.2499999999999885" height="56.45" fill="#c6c6c6" stroke="#1a1a1a" stroke-width="0.9"/>
<line x1="239.55" y1="227.3" x2="239.55" y2="228.0" stroke="#000" stroke-width="1.1"/>
<line x1="237.85000000000002" y1="227.3" x2="241.25" y2="227.3" stroke="#000" stroke-width="1.1"/>
<rect x="227.6" y="228.0" width="8.5" height="60.80000000000001" fill="#000"/>
<rect x="235.79999999999998" y="228.45" width="6.9500000000000055" height="60.35000000000001" fill="#c6c6c6" stroke="#1a1a1a" stroke-width="0.9"/>
<line x1="103.2" y1="246.9" x2="117.0" y2="246.9" stroke="#000" stroke-width="1.3"/>
<polygon points="107.30,240.90 107.92,242.45 109.58,242.56 108.30,243.62 108.71,245.24 107.30,244.35 105.89,245.24 106.30,243.62 105.02,242.56 106.68,242.45" fill="#000"/>
<polygon points="112.30,240.90 112.92,242.45 114.58,242.56 113.30,243.62 113.71,245.24 112.30,244.35 110.89,245.24 111.30,243.62 110.02,242.56 111.68,242.45" fill="#000"/>
<line x1="153.0" y1="253.3" x2="166.5" y2="253.3" stroke="#000" stroke-width="1.3"/>
<polygon points="160.10,247.10 160.72,248.65 162.38,248.76 161.10,249.82 161.51,251.44 160.10,250.55 158.69,251.44 159.10,249.82 157.82,248.76 159.48,248.65" fill="#000"/>
<line x1="203.2" y1="223.4" x2="217.0" y2="223.4" stroke="#000" stroke-width="1.3"/>
<polygon points="206.10,217.40 206.72,218.95 208.38,219.06 207.10,220.12 207.51,221.74 206.10,220.85 204.69,221.74 205.10,220.12 203.82,219.06 205.48,218.95" fill="#000"/>
<polygon points="210.60,217.40 211.22,218.95 212.88,219.06 211.60,220.12 212.01,221.74 210.60,220.85 209.19,221.74 209.60,220.12 208.32,219.06 209.98,218.95" fill="#000"/>
<polygon points="215.30,217.40 215.92,218.95 217.58,219.06 216.30,220.12 216.71,221.74 215.30,220.85 213.89,221.74 214.30,220.12 213.02,219.06 214.68,218.95" fill="#000"/>
<text x="61" y="300.0" font-size="8.1" font-weight="bold" text-anchor="middle" fill="#000" stroke="#000" stroke-width="0.4">5</text>
<text x="85.6" y="300.0" font-size="8.1" font-weight="bold" text-anchor="middle" fill="#000" stroke="#000" stroke-width="0.4">0.01</text>
<text x="111.2" y="300.0" font-size="8.1" font-weight="bold" text-anchor="middle" fill="#000" stroke="#000" stroke-width="0.4">0.15</text>
<text x="135.3" y="300.0" font-size="8.1" font-weight="bold" text-anchor="middle" fill="#000" stroke="#000" stroke-width="0.4">1</text>
<text x="161.1" y="300.0" font-size="8.1" font-weight="bold" text-anchor="middle" fill="#000" stroke="#000" stroke-width="0.4">0.025</text>
<text x="185.4" y="300.0" font-size="8.1" font-weight="bold" text-anchor="middle" fill="#000" stroke="#000" stroke-width="0.4">0.5</text>
<text x="210.4" y="300.0" font-size="8.1" font-weight="bold" text-anchor="middle" fill="#000" stroke="#000" stroke-width="0.4">1</text>
<text x="235" y="300.0" font-size="8.1" font-weight="bold" text-anchor="middle" fill="#000" stroke="#000" stroke-width="0.4">2</text>
<line x1="54.2" y1="303.8" x2="66.8" y2="303.8" stroke="#444" stroke-width="1"/>
<line x1="78.2" y1="303.8" x2="92.2" y2="303.8" stroke="#444" stroke-width="1"/>
<line x1="101.3" y1="303.8" x2="142.5" y2="303.8" stroke="#444" stroke-width="1"/>
<line x1="149.7" y1="303.8" x2="191.9" y2="303.8" stroke="#444" stroke-width="1"/>
<line x1="201.8" y1="303.8" x2="241.5" y2="303.8" stroke="#444" stroke-width="1"/>
<text x="61.7" y="315" font-size="8.1" font-weight="bold" text-anchor="middle" fill="#000" stroke="#000" stroke-width="0.4">ADP</text>
<text x="86" y="315" font-size="8.1" font-weight="bold" text-anchor="middle" fill="#000" stroke="#000" stroke-width="0.4">thr</text>
<text x="123.7" y="315" font-size="8.1" font-weight="bold" text-anchor="middle" fill="#000" stroke="#000" stroke-width="0.4">U46</text>
<text x="172.2" y="315" font-size="8.1" font-weight="bold" text-anchor="middle" fill="#000" stroke="#000" stroke-width="0.4">CRP</text>
<text x="223.1" y="315" font-size="8.5" font-weight="bold" text-anchor="middle" fill="#000" stroke="#000" stroke-width="0.4">collagen</text>
<text x="61.4" y="326" font-size="8.1" font-weight="bold" text-anchor="middle" fill="#000" stroke="#000" stroke-width="0.4">[µM]</text>
<text x="87.6" y="326" font-size="8.1" font-weight="bold" text-anchor="middle" fill="#000" stroke="#000" stroke-width="0.4">[U/mL]</text>
<text x="123.5" y="326" font-size="8.1" font-weight="bold" text-anchor="middle" fill="#000" stroke="#000" stroke-width="0.4">[µM]</text>
<text x="174.3" y="326" font-size="8.1" font-weight="bold" text-anchor="middle" fill="#000" stroke="#000" stroke-width="0.4">[µg/mL]</text>
<text x="224.2" y="326" font-size="8.1" font-weight="bold" text-anchor="middle" fill="#000" stroke="#000" stroke-width="0.4">[µg/mL]</text>
</svg></body></html>
